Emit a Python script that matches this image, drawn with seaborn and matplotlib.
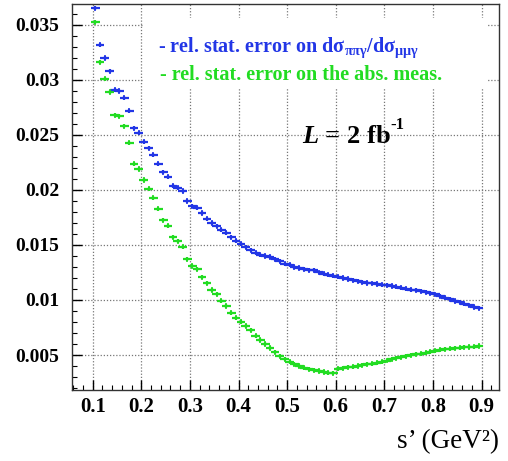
import numpy as np
import pandas as pd
import matplotlib
matplotlib.use("Agg")
import matplotlib.pyplot as plt
from matplotlib.patches import Rectangle
import seaborn as sns

# ---------------- data ----------------
s_prime = [round(0.105 + 0.01 * i, 3) for i in range(80)]

err_ratio = [
    0.0365, 0.0332, 0.0320, 0.0308, 0.0291, 0.0290, 0.0284, 0.0272, 0.0256, 0.0252,
    0.0244, 0.0238, 0.0232, 0.0224, 0.0216, 0.0212, 0.0204, 0.0202, 0.0199, 0.0190,
    0.0185, 0.0184, 0.0179, 0.0174, 0.0170, 0.0167, 0.0164, 0.0161, 0.0157, 0.0154,
    0.0151, 0.0148, 0.0145, 0.0143, 0.0141, 0.0140, 0.0139, 0.0137, 0.0135, 0.0133,
    0.0132, 0.0130, 0.0129, 0.0128, 0.0127, 0.0127, 0.0125, 0.0124, 0.0123, 0.0122,
    0.0121, 0.0120, 0.0119, 0.0118, 0.0117, 0.0116, 0.01155, 0.0115, 0.01145, 0.0114,
    0.01135, 0.01128, 0.0112, 0.0111, 0.01103, 0.01095, 0.01087, 0.01078, 0.0107, 0.01062,
    0.0105, 0.01035, 0.0102, 0.01005, 0.0099, 0.00978, 0.00965, 0.0095, 0.00937, 0.00925,
]

err_abs = [
    0.03525, 0.0316, 0.0301, 0.0289, 0.0268, 0.0267, 0.0258, 0.0243, 0.0224, 0.0219,
    0.0209, 0.0201, 0.0193, 0.0183, 0.01725, 0.01676, 0.0157, 0.01534, 0.01485, 0.0137,
    0.01309, 0.01279, 0.01206, 0.01152, 0.01091, 0.01052, 0.00994, 0.00945, 0.00885, 0.0084,
    0.00803, 0.00764, 0.00723, 0.00674, 0.00636, 0.00600, 0.00564, 0.00523, 0.00490, 0.00460,
    0.00440, 0.00415, 0.00400, 0.00385, 0.00370, 0.00362, 0.00355, 0.00345, 0.00340, 0.00333,
    0.00375, 0.00380, 0.00388, 0.00395, 0.00400, 0.00405, 0.00415, 0.00422, 0.00430, 0.00440,
    0.00450, 0.00460, 0.00470, 0.00480, 0.00490, 0.00497, 0.00505, 0.00512, 0.00520, 0.00530,
    0.00540, 0.00548, 0.00553, 0.00558, 0.00562, 0.00566, 0.00570, 0.00573, 0.00577, 0.00582,
]

bin_half_width = 0.009
stat_err = 0.00018

x_ticks = [0.1, 0.2, 0.3, 0.4, 0.5, 0.6, 0.7, 0.8, 0.9]
x_tick_labels = ["0.1", "0.2", "0.3", "0.4", "0.5", "0.6", "0.7", "0.8", "0.9"]
y_ticks = [0.005, 0.01, 0.015, 0.02, 0.025, 0.03, 0.035]
y_tick_labels = ["0.005", "0.01", "0.015", "0.02", "0.025", "0.03", "0.035"]

label_ratio = r"rel. stat. error on d$\mathrm{\sigma}_{\mathrm{\pi\pi\gamma}}$/d$\mathrm{\sigma}_{\mathrm{\mu\mu\gamma}}$"
label_abs = "rel. stat. error on the abs. meas."
lumi_main = r"$L$ = 2 fb"
lumi_sup = "-1"
x_label = "s\u2019 (GeV\u00b2)"

BLUE = "#2236e6"
GREEN = "#22dc22"

# ---------------- style ----------------
sns.set_theme(style="ticks")
plt.rcParams["font.family"] = ["Liberation Serif", "DejaVu Serif"]
plt.rcParams["mathtext.fontset"] = "custom"
plt.rcParams["mathtext.rm"] = "Liberation Serif:bold"
plt.rcParams["mathtext.it"] = "Liberation Serif:italic:bold"
plt.rcParams["mathtext.bf"] = "Liberation Serif:bold"

df = pd.DataFrame({
    "s": s_prime * 2,
    "err": err_ratio + err_abs,
    "series": ["ratio"] * len(s_prime) + ["abs"] * len(s_prime),
})

fig = plt.figure(figsize=(5.08, 4.61), dpi=100)
ax = fig.add_axes([72 / 508, 1 - 390 / 461, 427 / 508, 386 / 461])

for name, col in [("abs", GREEN), ("ratio", BLUE)]:
    sub = df[df["series"] == name]
    ax.errorbar(sub["s"], sub["err"], xerr=bin_half_width, yerr=stat_err,
                fmt="none", ecolor=col, elinewidth=1.6, capsize=0, zorder=3)

sns.scatterplot(data=df, x="s", y="err", hue="series",
                palette={"ratio": BLUE, "abs": GREEN},
                marker="|", s=14, linewidth=1.2, legend=False, ax=ax, zorder=4)

ax.set_xlim(0.0574, 0.936)
ax.set_ylim(0.00182, 0.0369)

ax.set_xticks(x_ticks)
ax.set_xticklabels(x_tick_labels)
ax.set_yticks(y_ticks)
ax.set_yticklabels(y_tick_labels)
ax.xaxis.set_minor_locator(matplotlib.ticker.MultipleLocator(0.02))
ax.yaxis.set_minor_locator(matplotlib.ticker.MultipleLocator(0.001))

ax.tick_params(axis="both", which="major", direction="in", length=7, width=1.0,
               color="black", top=False, right=False)
ax.tick_params(axis="both", which="minor", direction="in", length=3.5, width=0.8,
               color="black", top=False, right=False)
ax.tick_params(axis="x", which="major", pad=5)
ax.tick_params(axis="y", which="major", pad=9)
for lab in ax.get_xticklabels():
    lab.set_fontweight("bold")
    lab.set_fontsize(15)
    lab.set_color("black")
for lab in ax.get_yticklabels():
    lab.set_fontweight("bold")
    lab.set_fontsize(14)
    lab.set_color("black")

for sp in ax.spines.values():
    sp.set_visible(True)
    sp.set_color("#333333")
    sp.set_linewidth(1.0)

ax.set_axisbelow(True)
ax.grid(True, which="major", linestyle=(0, (1, 1.5)), color="#777777", linewidth=0.9)

# legend box (white, hides grid)
ax.add_patch(Rectangle((0.169, 0.782), 0.803, 0.182, transform=ax.transAxes,
                       facecolor="white", edgecolor="none", zorder=1))
ax.text(0.201, 0.876, "- " + label_ratio, transform=ax.transAxes, color=BLUE,
        fontsize=14.5, fontweight="bold", va="baseline", ha="left", zorder=5)
ax.text(0.206, 0.803, "- " + label_abs, transform=ax.transAxes, color=GREEN,
        fontsize=14.5, fontweight="bold", va="baseline", ha="left", zorder=5)

ax.text(0.539, 0.640, lumi_main, transform=ax.transAxes, color="black",
        fontsize=19, fontweight="bold", va="baseline", ha="left", zorder=5)
ax.text(0.746, 0.675, lumi_sup, transform=ax.transAxes, color="black",
        fontsize=12, fontweight="bold", va="baseline", ha="left", zorder=5)

ax.set_xlabel(x_label, loc="right", fontsize=19.5, labelpad=9, color="black")
ax.set_ylabel("")

fig.savefig("out.png", dpi=100, facecolor="white")
